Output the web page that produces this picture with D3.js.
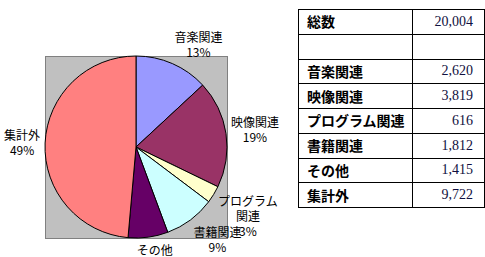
<!DOCTYPE html>
<html>
<head>
<meta charset="utf-8">
<script src="https://cdn.jsdelivr.net/npm/d3@7"></script>
<style>
  body { margin: 0; background: #fff; }
  svg text { font-family: "Noto Sans CJK JP", sans-serif; }
</style>
</head>
<body>
<svg id="chart" width="485" height="257"></svg>
<script>
// chart data
const categories = ["音楽関連", "映像関連", "プログラム関連", "書籍関連", "その他", "集計外"];
const values = [2620, 3819, 616, 1812, 1415, 9722];
const colors = ["#9999FF", "#993366", "#FFFFCC", "#CCFFFF", "#660066", "#FF8080"];
// how the pie labels wrap
const labelLines = [["音楽関連"], ["映像関連"], ["プログラム", "関連"], ["書籍関連"], ["その他"], ["集計外"]];
const totalLabel = "総数";
const total = 20004;

const svg = d3.select("#chart");

// pie
const cx = 136, cy = 147, r = 91;

svg.append("rect")
  .attr("x", cx - r + 0.5)
  .attr("y", cy - r + 0.5)
  .attr("width", 2 * r)
  .attr("height", 2 * r)
  .attr("fill", "#C0C0C0")
  .attr("stroke", "#808080");

const pie = d3.pie().sort(null).value(d => d);
const arcs = pie(values);
const arc = d3.arc().innerRadius(0).outerRadius(r);

const g = svg.append("g").attr("transform", `translate(${cx},${cy})`);

g.selectAll("path")
  .data(arcs)
  .enter()
  .append("path")
  .attr("d", arc)
  .attr("fill", (d, i) => colors[i])
  .attr("stroke", "#000")
  .attr("stroke-width", 1);

// labels, placed just outside the edge at each slice's mid angle
const fmt = d3.format(".0%");
const lineH = 15, fontSize = 12, pad = 5;

arcs.forEach((d, i) => {
  const lines = labelLines[i].concat([fmt(values[i] / total)]);
  const w = d3.max(lines, s => s.length) * fontSize;
  const h = lines.length * lineH;
  const a = (d.startAngle + d.endAngle) / 2;
  const s = Math.sin(a), c = Math.cos(a);
  const x = s * (r + pad) + Math.sign(s) * (w / 2) * Math.min(1, Math.abs(s) * 2.5);
  const y = -c * (r + pad) - Math.sign(c) * (h / 2) * Math.min(1, Math.abs(c) * 1.6);
  const t = g.append("text")
    .attr("text-anchor", "middle")
    .attr("font-size", fontSize)
    .attr("fill", "#000");
  lines.forEach((str, k) => {
    t.append("tspan")
      .attr("x", x)
      .attr("y", y - h / 2 + lineH * k + lineH / 2)
      .attr("dominant-baseline", "central")
      .text(str);
  });
});

// table
const rows = [[totalLabel, total], ["", null]]
  .concat(categories.map((c, i) => [c, values[i]]));

const tx0 = 298, tx1 = 412, tx2 = 484, ty0 = 9, ty1 = 207;
const rowY = d3.scaleBand().domain(d3.range(rows.length)).range([ty0, ty1]);
const num = d3.format(",");

const tg = svg.append("g");

tg.selectAll("line.h")
  .data(d3.range(rows.length + 1))
  .enter()
  .append("line")
  .attr("x1", tx0)
  .attr("x2", tx2 + 1)
  .attr("y1", i => Math.round(ty0 + i * rowY.step()) + 0.5)
  .attr("y2", i => Math.round(ty0 + i * rowY.step()) + 0.5)
  .attr("stroke", "#000");

tg.selectAll("line.v")
  .data([tx0, tx1, tx2])
  .enter()
  .append("line")
  .attr("x1", x => x + 0.5)
  .attr("x2", x => x + 0.5)
  .attr("y1", ty0)
  .attr("y2", Math.round(ty1) + 1)
  .attr("stroke", "#000");

tg.selectAll("text.lab")
  .data(rows)
  .enter()
  .append("text")
  .attr("x", tx0 + 9)
  .attr("y", (d, i) => rowY(i) + rowY.bandwidth() / 2)
  .attr("dominant-baseline", "central")
  .attr("font-size", 14)
  .attr("font-weight", 700)
  .text(d => d[0]);

tg.selectAll("text.val")
  .data(rows)
  .enter()
  .append("text")
  .attr("x", tx2 - 11)
  .attr("y", (d, i) => rowY(i) + rowY.bandwidth() / 2)
  .attr("dominant-baseline", "central")
  .attr("text-anchor", "end")
  .attr("font-size", 14)
  .style("font-family", "'Liberation Serif', serif")
  .attr("fill", "#101040")
  .text(d => d[1] == null ? "" : num(d[1]));
</script>
</body>
</html>
